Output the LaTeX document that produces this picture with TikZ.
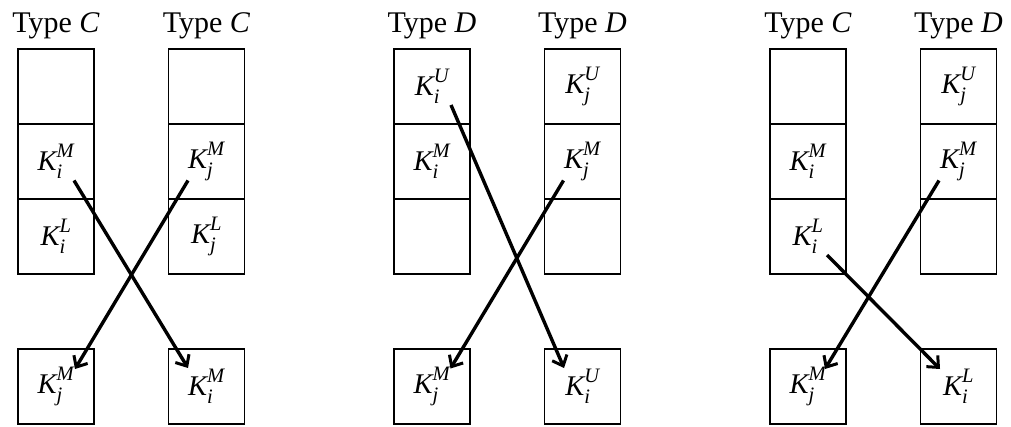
\documentclass[tikz,border=0pt]{standalone}
\usepackage{amsmath}
\usepackage{fontspec}
\setmainfont{Liberation Serif}
\usetikzlibrary{arrows.meta}
\newcommand{\scr}{\fontsize{20.5}{22}\selectfont\itshape}
\newcommand{\KK}[2]{$\textit{K}_{\raisebox{-1.5pt}{\scr #1}}^{\raisebox{2.5pt}{\scr #2}}$}
\tikzset{
  cell/.style={draw, line width=1.6pt, minimum width=76pt, minimum height=75pt, inner sep=0pt, font=\fontsize{28.5}{31}\selectfont},
  title/.style={anchor=base, inner sep=0pt, font=\fontsize{30}{33}\selectfont},
  link/.style={line width=3.4pt, -{Straight Barb[length=9pt,width=16pt,line width=3pt]}},
}
\begin{document}
\begin{tikzpicture}[x=1pt,y=-1pt]
\useasboundingbox (0,0) rectangle (1011,427);
% ---------- group 1 ----------
\node[title] (t1a) at (56,33) {Type \textit{C}};
\node[title] (t1b) at (206.5,33) {Type \textit{C}};
\node[cell] (a1) at (56,86.5) {};
\node[cell] (a2) at (56,161.5) {\KK{i}{M}};
\node[cell] (a3) at (56,236.5) {\KK{i}{L}};
\node[cell] (b1) at (206.5,86.5) {};
\node[cell] (b2) at (206.5,161.5) {\KK{j}{M}};
\node[cell] (b3) at (206.5,236.5) {\KK{j}{L}};
\node[cell] (c1) at (56,386.5) {\KK{j}{M}};
\node[cell] (d1) at (206.5,386.5) {\KK{i}{M}};
\coordinate (s1) at ([shift={(18,19)}]a2.center);
\coordinate (e1) at ([shift={(-18.5,-18.5)}]d1.center);
\coordinate (s2) at ([shift={(-18.5,19)}]b2.center);
\coordinate (e2) at ([shift={(19,-17.5)}]c1.center);
\draw[link] (s1) -- (e1);
\draw[link] (s2) -- (e2);
% ---------- group 2 ----------
\node[title] (t2a) at (432,33) {Type \textit{D}};
\node[title] (t2b) at (582.5,33) {Type \textit{D}};
\node[cell] (f1) at (432,86.5) {\KK{i}{U}};
\node[cell] (f2) at (432,161.5) {\KK{i}{M}};
\node[cell] (f3) at (432,236.5) {};
\node[cell] (g1) at (582.5,86.5) {\KK{j}{U}};
\node[cell] (g2) at (582.5,161.5) {\KK{j}{M}};
\node[cell] (g3) at (582.5,236.5) {};
\node[cell] (h1) at (432,386.5) {\KK{j}{M}};
\node[cell] (k1) at (582.5,386.5) {\KK{i}{U}};
\coordinate (s3) at ([shift={(19,18.5)}]f1.center);
\coordinate (e3) at ([shift={(-18.5,-18.5)}]k1.center);
\coordinate (s4) at ([shift={(-19,19)}]g2.center);
\coordinate (e4) at ([shift={(18.5,-18)}]h1.center);
\draw[link] (s3) -- (e3);
\draw[link] (s4) -- (e4);
% ---------- group 3 ----------
\node[title] (t3a) at (808,33) {Type \textit{C}};
\node[title] (t3b) at (958.5,33) {Type \textit{D}};
\node[cell] (m1) at (808,86.5) {};
\node[cell] (m2) at (808,161.5) {\KK{i}{M}};
\node[cell] (m3) at (808,236.5) {\KK{i}{L}};
\node[cell] (n1) at (958.5,86.5) {\KK{j}{U}};
\node[cell] (n2) at (958.5,161.5) {\KK{j}{M}};
\node[cell] (n3) at (958.5,236.5) {};
\node[cell] (p1) at (808,386.5) {\KK{j}{M}};
\node[cell] (q1) at (958.5,386.5) {\KK{i}{L}};
\coordinate (s5) at ([shift={(19,18.5)}]m3.center);
\coordinate (e5) at ([shift={(-18.5,-17.5)}]q1.center);
\coordinate (s6) at ([shift={(-19.5,19)}]n2.center);
\coordinate (e6) at ([shift={(17,-17.5)}]p1.center);
\draw[link] (s5) -- (e5);
\draw[link] (s6) -- (e6);
\end{tikzpicture}
\end{document}
